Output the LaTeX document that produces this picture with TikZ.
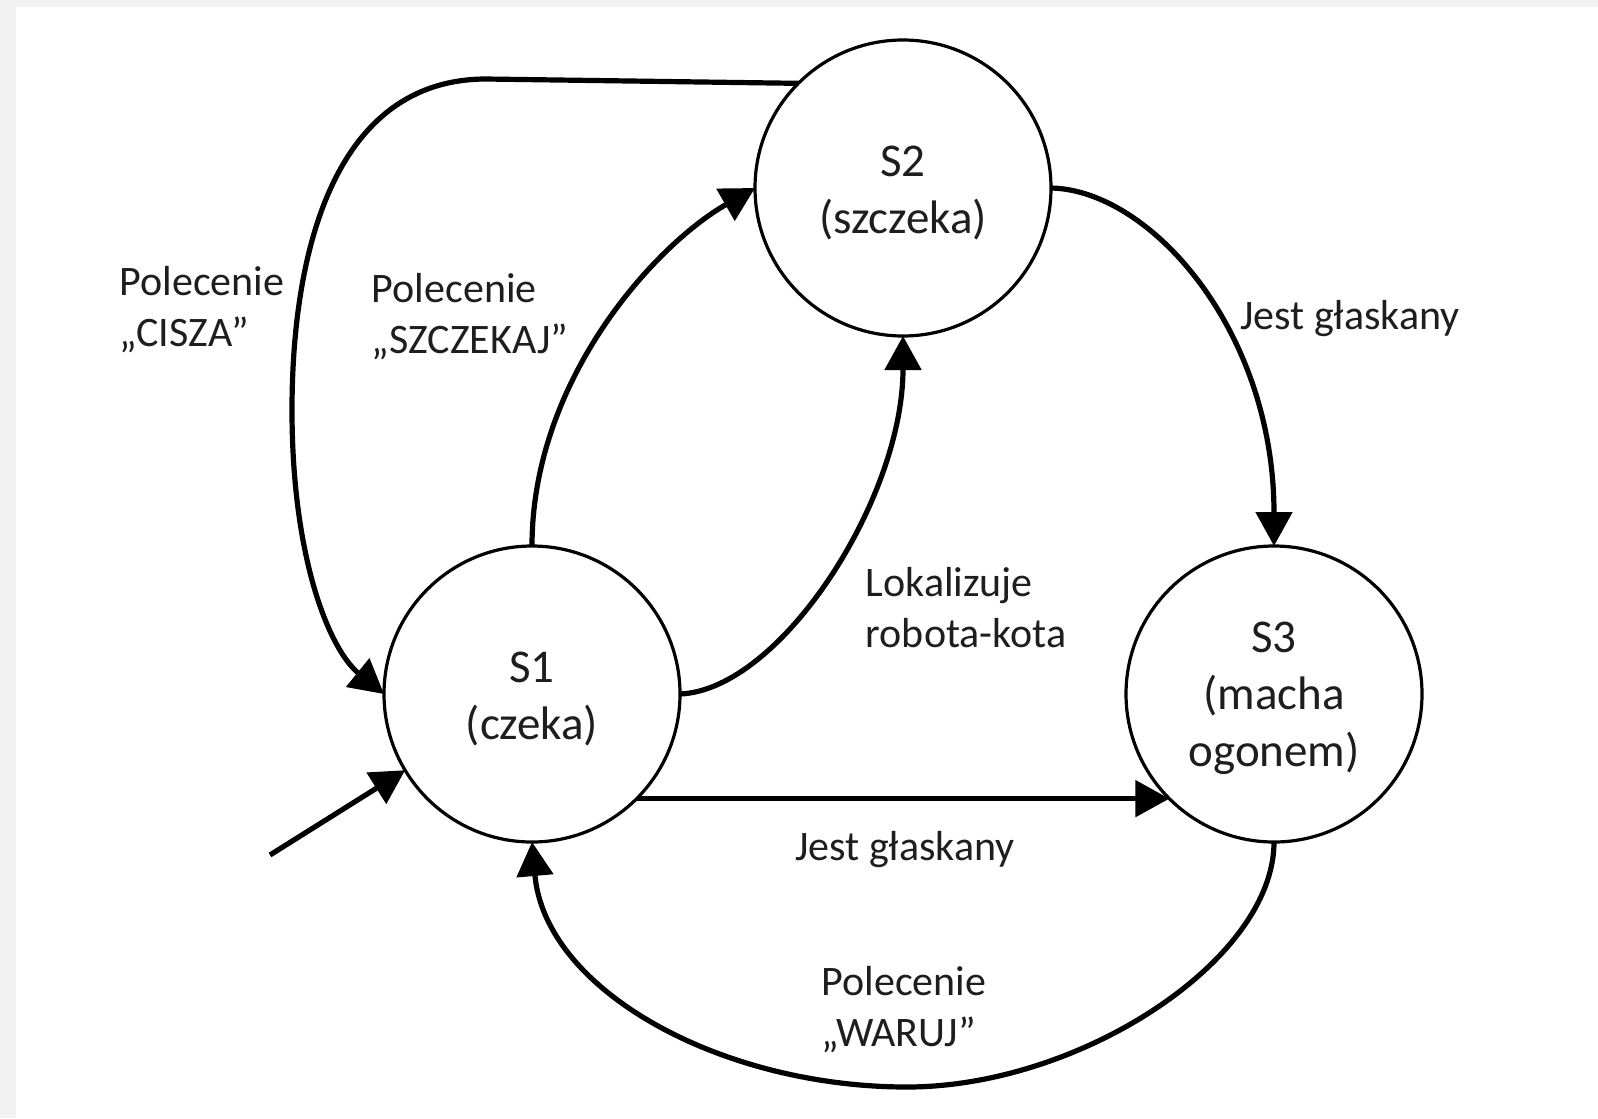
\documentclass[tikz,border=0pt]{standalone}
\usepackage{fontspec}
\setmainfont{Carlito}
\usetikzlibrary{arrows.meta}
\definecolor{pagegray}{HTML}{F2F2F2}
\definecolor{ink}{HTML}{1E1E1E}
\newcommand{\topstrut}{\rule{0pt}{20pt}}
\begin{document}
\begin{tikzpicture}[x=0.5pt,y=-0.5pt,
  state/.style={circle,draw=black,line width=1.6pt,minimum size=148pt,inner sep=0pt,outer sep=0pt,
    align=center,text=ink,font=\fontsize{23.5}{28.5}\selectfont},
  lbl/.style={align=left,text=ink,inner sep=0pt,font=\fontsize{21}{25.5}\selectfont},
  edge/.style={line width=2.6pt,-{Triangle[length=17pt,width=18pt]}}]
  % page background and white sheet
  \useasboundingbox (0,0) rectangle (1598,1118);
  \fill[pagegray] (0,0) rectangle (1598,1118);
  \fill[white] (16,7) rectangle (1598,1118);

  % states
  \node[state] (S1) at (532,694) {\topstrut S1\\(czeka)};
  \node[state] (S2) at (903,188) {\topstrut S2\\(szczeka)};
  \node[state] (S3) at (1274,694) {\topstrut S3\\(macha\\ogonem)};
  \coordinate (init) at (270,855);

  % transitions
  \draw[edge] (S2.135) -- (485,79) .. controls (335,80) and (292,250) .. (292,410)
     .. controls (292,560) and (330,650) .. (S1.180);
  \draw[edge] (S1.90) .. controls (532,380) and (655,245) .. (S2.180);
  \draw[edge] (S1.0) .. controls (780,690) and (903,500) .. (S2.270);
  \draw[edge] (S2.0) .. controls (1150,190) and (1274,330) .. (S3.90);
  \draw[edge] (S1.-45) -- (S3.-135);
  \draw[edge] (S3.270) .. controls (1274,960) and (1080,1087) .. (907,1087)
     .. controls (720,1087) and (545,990) .. (S1.270);
  \draw[edge] (init) -- (S1.211);

  % transition labels
  \node[lbl] (lCisza) at (202,310) {Polecenie\\„CISZA”};
  \node[lbl] (lSzczekaj) at (470,317) {Polecenie\\„SZCZEKAJ”};
  \node[lbl] (lGlask1) at (1350,319) {Jest głaskany};
  \node[lbl] (lLok) at (966,608) {Lokalizuje\\robota-kota};
  \node[lbl] (lGlask2) at (905,850) {Jest głaskany};
  \node[lbl] (lWaruj) at (904,1010) {Polecenie\\„WARUJ”};
\end{tikzpicture}
\end{document}
